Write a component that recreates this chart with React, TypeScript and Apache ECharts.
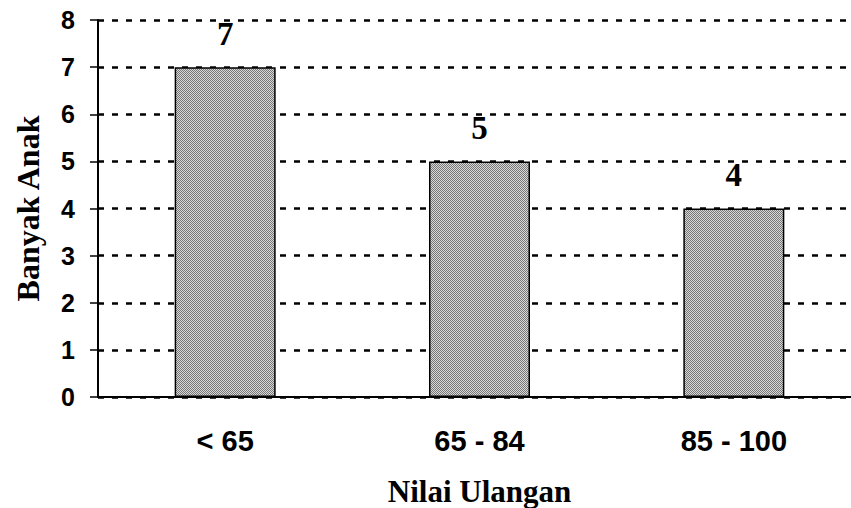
import React, { useEffect, useRef } from "react";
import * as echarts from "echarts";

const categories = ["< 65", "65 - 84", "85 - 100"];
const counts = [7, 5, 4];
const yTicks = [0, 1, 2, 3, 4, 5, 6, 7, 8];
const xTitle = "Nilai Ulangan";
const yTitle = "Banyak Anak";

function makePattern(): HTMLCanvasElement {
  const c = document.createElement("canvas");
  c.width = 2;
  c.height = 2;
  const ctx = c.getContext("2d")!;
  ctx.fillStyle = "#d8d8d8";
  ctx.fillRect(0, 0, 2, 2);
  ctx.fillStyle = "#777777";
  ctx.fillRect(0, 0, 1, 1);
  ctx.fillRect(1, 1, 1, 1);
  return c;
}

export default function App() {
  const ref = useRef<HTMLDivElement>(null);
  useEffect(() => {
    if (!ref.current) return;
    const chart = echarts.init(ref.current, undefined, { renderer: "svg" });
    let fill: any = "#a6a6a6";
    try {
      const canvas = makePattern();
      fill = { image: canvas.toDataURL(), repeat: "repeat" };
    } catch (e) {
      fill = "#a6a6a6";
    }
    chart.setOption({
      animation: false,
      backgroundColor: "#ffffff",
      grid: {
        left: 98,
        width: 763,
        top: 20,
        bottom: 111,
        containLabel: false,
        outerBoundsMode: "none",
      },
      xAxis: {
        type: "category",
        data: categories,
        name: xTitle,
        nameLocation: "middle",
        nameGap: 79,
        nameTextStyle: {
          fontFamily: "Liberation Serif",
          fontWeight: "bold",
          fontSize: 31,
          color: "#000",
        },
        axisLine: { show: true, lineStyle: { color: "#000", width: 2 } },
        axisTick: { show: false },
        axisLabel: {
          margin: 29,
          fontFamily: "Liberation Sans",
          fontWeight: "bold",
          fontSize: 29,
          color: "#000",
        },
        splitLine: { show: false },
      },
      yAxis: {
        type: "value",
        min: yTicks[0],
        max: yTicks[yTicks.length - 1],
        interval: 1,
        name: yTitle,
        nameLocation: "middle",
        nameGap: 54,
        nameTextStyle: {
          fontFamily: "Liberation Serif",
          fontWeight: "bold",
          fontSize: 32,
          color: "#000",
        },
        axisLine: { show: true, lineStyle: { color: "#000", width: 2 } },
        axisTick: { show: true, inside: false, length: 8, lineStyle: { color: "#000", width: 1.5 } },
        axisLabel: {
          margin: 23,
          fontFamily: "Liberation Sans",
          fontWeight: "bold",
          fontSize: 25,
          color: "#000",
        },
        splitLine: {
          show: true,
          lineStyle: { color: "#000", width: 2.5, type: [6, 8] },
        },
      },
      series: [
        {
          type: "bar",
          data: counts,
          barWidth: 101,
          itemStyle: {
            color: fill,
            borderColor: "#000",
            borderWidth: 1.5,
          },
          label: {
            show: true,
            position: "top",
            distance: 17,
            fontFamily: "Liberation Serif",
            fontWeight: "bold",
            fontSize: 33,
            color: "#000",
          },
          z: 3,
        },
      ],
    });
    return () => chart.dispose();
  }, []);
  return <div ref={ref} style={{ width: 851, height: 508, position: "absolute", left: 0, top: 0 }} />;
}
